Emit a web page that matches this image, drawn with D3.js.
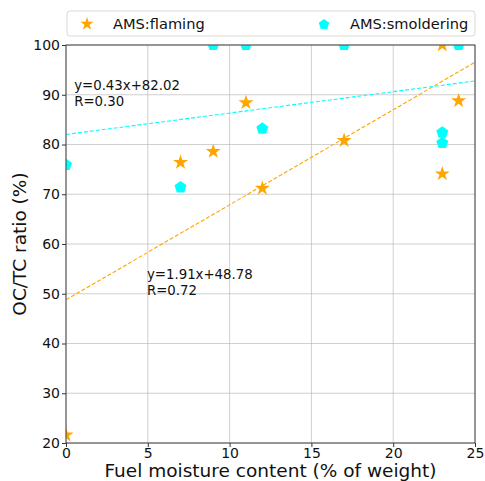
<!DOCTYPE html>
<html>
<head>
<meta charset="utf-8">
<script src="https://cdn.jsdelivr.net/npm/d3@7"></script>
<style>
  body { margin: 0; background: #fff; }
  text { font-family: "DejaVu Sans", sans-serif; fill: #111; }
</style>
</head>
<body>
<svg id="chart" width="485" height="481"></svg>
<script>
// Fuel moisture (%) vs OC/TC ratio (%)
const flamingX = [0, 7, 9, 11, 12, 17, 23, 23, 24];
const flamingY = [21.6, 76.4, 78.6, 88.4, 71.2, 80.8, 100, 74.1, 88.8];
const smolderX = [0, 7, 9, 11, 12, 17, 23, 23, 24];
const smolderY = [75.9, 71.4, 100, 100, 83.2, 100, 82.4, 80.3, 100];
const xTicks = [0, 5, 10, 15, 20, 25];
const yTicks = [20, 30, 40, 50, 60, 70, 80, 90, 100];
const fits = [
  { name: "flaming", slope: 1.91, intercept: 48.78, r: 0.72 },
  { name: "smoldering", slope: 0.43, intercept: 82.02, r: 0.30 }
];

const svg = d3.select("#chart");
const pLeft = 66, pRight = 475, pTop = 45, pBottom = 443;
const x = d3.scaleLinear().domain([0, 25]).range([pLeft, pRight]);
const y = d3.scaleLinear().domain([20, 100]).range([pBottom, pTop]);
const orange = "#ffa500", cyan = "#00ffff";

// grid
const grid = svg.append("g");
grid.selectAll(".gx").data(xTicks).join("line")
  .attr("x1", d => x(d)).attr("x2", d => x(d)).attr("y1", pTop).attr("y2", pBottom)
  .attr("stroke", "#b0b0b0").attr("stroke-opacity", 0.6).attr("stroke-width", 1);
grid.selectAll(".gy").data(yTicks).join("line")
  .attr("y1", d => y(d)).attr("y2", d => y(d)).attr("x1", pLeft).attr("x2", pRight)
  .attr("stroke", "#b0b0b0").attr("stroke-opacity", 0.6).attr("stroke-width", 1);

svg.append("defs").append("clipPath").attr("id", "plotClip")
  .append("rect").attr("x", pLeft).attr("y", pTop).attr("width", pRight - pLeft).attr("height", pBottom - pTop);

const plot = svg.append("g").attr("clip-path", "url(#plotClip)");

// regression lines
const colorOf = { flaming: orange, smoldering: cyan };
plot.selectAll(".fit").data(fits).join("line")
  .attr("x1", x(0)).attr("x2", x(25))
  .attr("y1", d => y(d.intercept)).attr("y2", d => y(d.slope * 25 + d.intercept))
  .attr("stroke", d => colorOf[d.name]).attr("stroke-width", 1.1)
  .attr("stroke-dasharray", "4,2");

// pentagon path
function pentagon(r) {
  const pts = d3.range(5).map(i => {
    const a = -Math.PI / 2 + i * 2 * Math.PI / 5;
    return [r * Math.cos(a), r * Math.sin(a)];
  });
  return "M" + pts.map(p => p.join(",")).join("L") + "Z";
}
const star = d3.symbol().type(d3.symbolStar).size(70)();

plot.selectAll(".smo").data(smolderX.map((v, i) => [v, smolderY[i]])).join("path")
  .attr("d", pentagon(6.3))
  .attr("transform", d => `translate(${x(d[0])},${y(d[1])})`)
  .attr("fill", cyan);
plot.selectAll(".fla").data(flamingX.map((v, i) => [v, flamingY[i]])).join("path")
  .attr("d", star)
  .attr("transform", d => `translate(${x(d[0])},${y(d[1])})`)
  .attr("fill", orange);

// axes
const xAxis = svg.append("g").attr("transform", `translate(0,${pBottom})`)
  .call(d3.axisBottom(x).tickValues(xTicks).tickSize(4).tickPadding(1));
const yAxis = svg.append("g").attr("transform", `translate(${pLeft},0)`)
  .call(d3.axisLeft(y).tickValues(yTicks).tickSize(4).tickPadding(2));
[xAxis, yAxis].forEach(a => {
  a.select(".domain").remove();
  a.selectAll("line").attr("stroke", "#333");
  a.selectAll("text").attr("font-size", 14).attr("fill", "#111").style("font-family", "DejaVu Sans, sans-serif");
});

// frame
svg.append("rect").attr("x", pLeft).attr("y", pTop).attr("width", pRight - pLeft).attr("height", pBottom - pTop)
  .attr("fill", "none").attr("stroke", "#444").attr("stroke-width", 1);

// axis titles
svg.append("text").attr("x", (pLeft + pRight) / 2).attr("y", 477).attr("text-anchor", "middle")
  .attr("font-size", 18.5).text("Fuel moisture content (% of weight)");
svg.append("text").attr("transform", `translate(26,${(pTop + pBottom) / 2}) rotate(-90)`)
  .attr("text-anchor", "middle").attr("font-size", 18.5).text("OC/TC ratio (%)");

// fit annotations
const ann = [
  { fit: fits[1], xv: 0.5, yv: 90.9 },
  { fit: fits[0], xv: 4.95, yv: 52.9 }
];
ann.forEach(a => {
  const t = svg.append("text").attr("x", x(a.xv)).attr("y", y(a.yv)).attr("font-size", 13.3);
  t.append("tspan").attr("x", x(a.xv)).text(`y=${a.fit.slope.toFixed(2)}x+${a.fit.intercept.toFixed(2)}`);
  t.append("tspan").attr("x", x(a.xv)).attr("dy", 15.5).text(`R=${a.fit.r.toFixed(2)}`);
});

// legend
const lg = svg.append("g");
lg.append("rect").attr("x", 67).attr("y", 11).attr("width", 408).attr("height", 25).attr("rx", 3)
  .attr("fill", "#fff").attr("stroke", "#d8d8d8").attr("stroke-width", 1);
lg.append("path").attr("d", d3.symbol().type(d3.symbolStar).size(55)())
  .attr("transform", "translate(87,24)").attr("fill", orange);
lg.append("text").attr("x", 113).attr("y", 28.8).attr("font-size", 14.6).text("AMS:flaming");
lg.append("path").attr("d", pentagon(5.5)).attr("transform", "translate(324,24.5)").attr("fill", cyan);
lg.append("text").attr("x", 350).attr("y", 28.8).attr("font-size", 14.6).text("AMS:smoldering");
</script>
</body>
</html>
